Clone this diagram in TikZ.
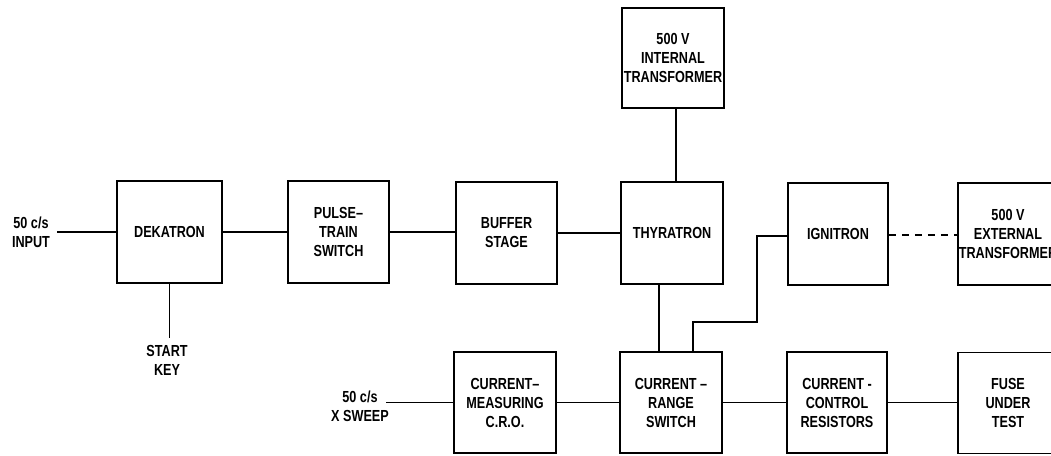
\documentclass[tikz,border=0pt]{standalone}
\usepackage{fontspec}
\newfontfamily\labfont[FakeStretch=0.79]{Liberation Sans}
\begin{document}
\begin{tikzpicture}[x=1pt,y=-1pt,
  lab/.style={font=\labfont\bfseries\fontsize{16}{19}\selectfont, align=center, inner sep=1pt},
  blk/.style={lab, draw, line width=1.8pt, inner sep=0pt, minimum width=#1, minimum height=102pt},
  blk/.default=102pt,
  wire/.style={line width=1.8pt},
  dashwire/.style={line width=1.6pt, dash pattern=on 7pt off 6pt}]
\useasboundingbox (0,0) rectangle (1051,455);
\clip (0,0) rectangle (1051,455);
% top row
\node[blk=105pt] (dek) at (169.5,232) {DEKATRON};
\node[blk=101pt] (pts) at (338.5,232) {PULSE–\\TRAIN\\SWITCH};
\node[blk=101pt] (buf) at (506.5,233) {BUFFER\\STAGE};
\node[blk] (thy) at (672,233) {THYRATRON};
\node[blk, minimum height=100pt] (int) at (673,58) {500 V\\INTERNAL\\TRANSFORMER};
\node[blk=100pt] (ign) at (838,234) {IGNITRON};
\node[blk=100pt] (ext) at (1008,234) {500 V\\EXTERNAL\\TRANSFORMER};
% bottom row
\node[blk, minimum height=101pt] (cro) at (505,402.5) {CURRENT–\\MEASURING\\C.R.O.};
\node[blk, minimum height=101pt] (crs) at (671,402.5) {CURRENT –\\RANGE\\SWITCH};
\node[blk=100pt, minimum height=101pt] (ccr) at (837,402.5) {CURRENT -\\CONTROL\\RESISTORS};
\node[blk=100pt, minimum height=101pt] (fuse) at (1008,403) {FUSE\\UNDER\\TEST};
% labels
\node[lab] (inlab) at (31,232) {50 c/s\\INPUT};
\node[lab] (key) at (167,360) {START\\KEY};
\node[lab] (xsw) at (360,406) {50 c/s\\X SWEEP};
\coordinate (inp) at (57,232);
\coordinate (keytop) at (169.5,338);
\coordinate (xsp) at (386,402.5);
% connectors
\draw[wire] (inp) -- (dek.west);
\draw[wire] (dek.south) -- (keytop);
\draw[wire] (dek.east) -- (dek.east -| pts.west);
\draw[wire] (pts.east) -- (pts.east -| buf.west);
\draw[wire] (buf.east) -- (buf.east -| thy.west);
\draw[wire] ([xshift=3pt]int.south) -- ([xshift=3pt]int.south |- thy.north);
\draw[wire] ([xshift=-13pt]thy.south) -- ([xshift=-13pt]thy.south |- crs.north);
\draw[wire] ([yshift=-2pt]ign.west) -- ++(-30,0) -- ++(0,86) -| ([xshift=22pt]crs.north);
\draw[dashwire] ([yshift=-1pt]ign.east) -- ([yshift=-1pt]ext.west);
\draw[wire] (xsp) -- (cro.west);
\draw[wire] (cro.east) -- (crs.west);
\draw[wire] (crs.east) -- (ccr.west);
\draw[wire] (ccr.east) -- (ccr.east -| fuse.west);
\end{tikzpicture}
\end{document}
